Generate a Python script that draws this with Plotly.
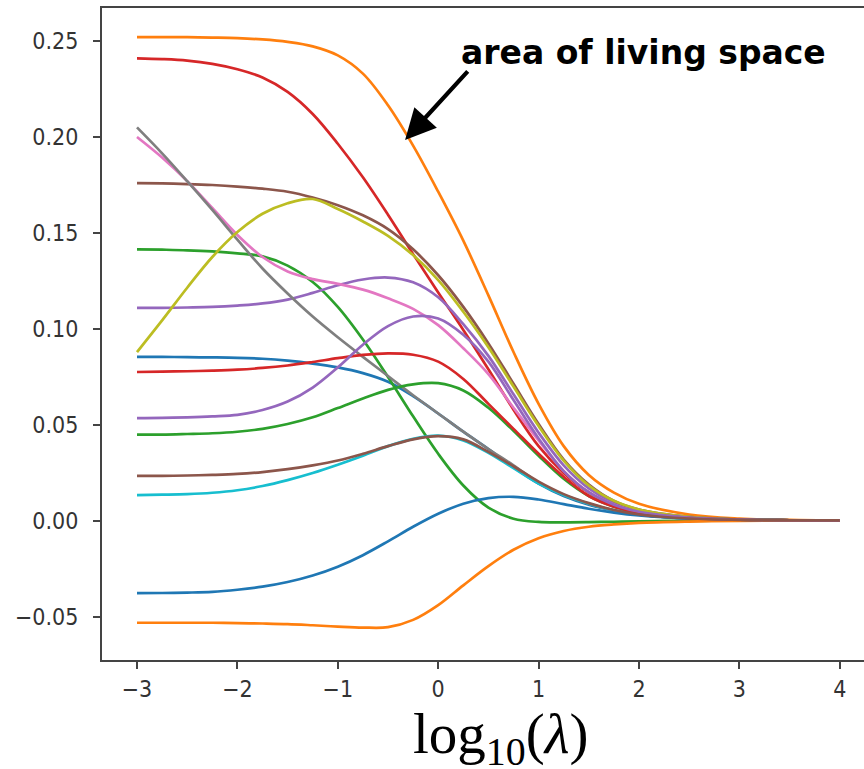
import plotly.graph_objects as go

# log10(lambda) sample positions
X = [-3, -2.75, -2.5, -2.25, -2, -1.75, -1.5, -1.25, -1, -0.75, -0.5, -0.25,
     0, 0.25, 0.5, 0.75, 1, 1.25, 1.5, 1.75, 2, 2.5, 3, 3.5, 4]

blue_a = [0.0855, 0.0855, 0.0853, 0.0852, 0.085, 0.0845, 0.0835, 0.082, 0.080, 0.077, 0.0725, 0.065,
          0.056, 0.0465, 0.0375, 0.028, 0.0195, 0.013, 0.0085, 0.0055, 0.0033, 0.0013, 0.0006, 0.0004, 0.0003]
orange_a = [0.252, 0.252, 0.252, 0.2518, 0.2515, 0.2508, 0.2495, 0.2472, 0.2425, 0.2330, 0.2165, 0.1955,
            0.1715, 0.146, 0.1175, 0.088, 0.061, 0.039, 0.024, 0.0148, 0.0090, 0.0034, 0.0013, 0.0006, 0.0003]
green_a = [0.1415, 0.1413, 0.141, 0.1404, 0.1394, 0.1378, 0.1330, 0.1245, 0.1115, 0.0945, 0.0750, 0.0545,
           0.035, 0.0185, 0.0070, 0.0012, -0.0005, -0.0007, -0.0006, -0.0004, -0.0002, 0.0001, 0.0002, 0.0003, 0.0003]
red_a = [0.241, 0.2406, 0.2398, 0.2381, 0.2353, 0.2310, 0.2235, 0.2120, 0.1965, 0.179, 0.1595, 0.139,
         0.119, 0.0995, 0.079, 0.058, 0.039, 0.025, 0.0148, 0.0085, 0.0048, 0.0017, 0.0007, 0.0004, 0.0003]
purple_a = [0.111, 0.111, 0.1112, 0.1115, 0.1122, 0.1133, 0.1153, 0.1188, 0.1228, 0.1258, 0.1268, 0.1243,
            0.1165, 0.1025, 0.086, 0.066, 0.046, 0.029, 0.017, 0.0095, 0.0054, 0.002, 0.0008, 0.0004, 0.0003]
brown_a = [0.176, 0.1758, 0.1755, 0.175, 0.1742, 0.1731, 0.1715, 0.1685, 0.1645, 0.1592, 0.152, 0.1415,
           0.128, 0.1115, 0.0925, 0.0715, 0.0505, 0.032, 0.019, 0.0105, 0.006, 0.0021, 0.0008, 0.0004, 0.0003]
pink = [0.200, 0.1893, 0.177, 0.163, 0.149, 0.1375, 0.130, 0.126, 0.1235, 0.1205, 0.116, 0.1105,
        0.102, 0.090, 0.0765, 0.059, 0.042, 0.026, 0.015, 0.0085, 0.0048, 0.0018, 0.0007, 0.0004, 0.0003]
gray = [0.205, 0.1915, 0.177, 0.162, 0.1465, 0.1315, 0.1185, 0.1065, 0.0957, 0.0855, 0.0755, 0.0655,
        0.056, 0.0465, 0.0375, 0.029, 0.020, 0.0135, 0.009, 0.0056, 0.0034, 0.0013, 0.0006, 0.0004, 0.0003]
olive = [0.088, 0.1045, 0.1215, 0.1375, 0.1505, 0.1600, 0.1655, 0.1677, 0.1625, 0.156, 0.1485, 0.1385,
         0.1255, 0.109, 0.0905, 0.070, 0.0495, 0.0315, 0.0185, 0.0105, 0.006, 0.0021, 0.0008, 0.0004, 0.0003]
cyan = [0.0135, 0.0137, 0.014, 0.0147, 0.016, 0.0182, 0.0213, 0.025, 0.0293, 0.034, 0.0390, 0.0428,
        0.0445, 0.042, 0.0355, 0.0275, 0.0195, 0.0135, 0.009, 0.0055, 0.0033, 0.0013, 0.0006, 0.0004, 0.0003]
blue_b = [-0.0376, -0.0375, -0.0373, -0.0369, -0.0358, -0.0342, -0.0318, -0.0284, -0.0238, -0.0178, -0.0106, -0.0030,
          0.0038, 0.0090, 0.0119, 0.0126, 0.0112, 0.0088, 0.0064, 0.0044, 0.0029, 0.0012, 0.0005, 0.0004, 0.0003]
orange_b = [-0.053, -0.053, -0.053, -0.053, -0.0532, -0.0534, -0.0537, -0.0543, -0.0550, -0.0555, -0.0553, -0.0515,
            -0.0438, -0.0335, -0.0235, -0.0150, -0.0090, -0.0052, -0.0030, -0.0018, -0.001, -0.0003, 0.0001, 0.0002, 0.0003]
green_b = [0.045, 0.045, 0.0453, 0.0457, 0.0465, 0.0480, 0.0505, 0.054, 0.0588, 0.0638, 0.0683, 0.0712,
           0.0718, 0.068, 0.059, 0.047, 0.034, 0.022, 0.013, 0.0075, 0.0042, 0.0016, 0.0007, 0.0004, 0.0003]
red_b = [0.0776, 0.0778, 0.078, 0.0783, 0.0788, 0.0797, 0.081, 0.0828, 0.0848, 0.0865, 0.0873, 0.0866,
         0.083, 0.074, 0.061, 0.048, 0.035, 0.023, 0.013, 0.0075, 0.0042, 0.0016, 0.0007, 0.0004, 0.0003]
purple_b = [0.0536, 0.0537, 0.054, 0.0545, 0.0553, 0.0578, 0.0622, 0.0695, 0.0800, 0.0918, 0.1015, 0.1065,
            0.1055, 0.097, 0.083, 0.063, 0.043, 0.026, 0.015, 0.0085, 0.0048, 0.0018, 0.0007, 0.0004, 0.0003]
brown_b = [0.0235, 0.0235, 0.0237, 0.024, 0.0245, 0.0255, 0.027, 0.029, 0.0315, 0.035, 0.039, 0.0425,
           0.0442, 0.0425, 0.036, 0.0285, 0.0205, 0.014, 0.0093, 0.0057, 0.0034, 0.0013, 0.0006, 0.0004, 0.0003]

series = [
    (blue_a, "#1f77b4"), (orange_a, "#ff7f0e"), (green_a, "#2ca02c"), (red_a, "#d62728"),
    (purple_a, "#9467bd"), (brown_a, "#8c564b"), (pink, "#e377c2"), (gray, "#7f7f7f"),
    (olive, "#bcbd22"), (cyan, "#17becf"),
    (blue_b, "#1f77b4"), (orange_b, "#ff7f0e"), (green_b, "#2ca02c"), (red_b, "#d62728"),
    (purple_b, "#9467bd"), (brown_b, "#8c564b"),
]

y_ticks = [-0.05, 0.0, 0.05, 0.10, 0.15, 0.20, 0.25]
x_ticks = [-3, -2, -1, 0, 1, 2, 3, 4]

fig = go.Figure()
for ys, col in series:
    fig.add_trace(go.Scatter(x=X, y=ys, mode="lines",
                             line=dict(color=col, width=2.7, shape="spline", smoothing=1.0),
                             showlegend=False, hoverinfo="skip"))

tickfont = dict(family="DejaVu Sans Condensed, DejaVu Sans", size=23, color="#333333")
fig.update_layout(
    width=864, height=769,
    margin=dict(l=102, r=0, t=8, b=109),
    paper_bgcolor="white", plot_bgcolor="white",
    xaxis=dict(range=[-3.3486, 4.241], tickvals=x_ticks, ticks="outside", ticklen=7, tickwidth=1.5,
               tickcolor="#444", showline=True, linecolor="#444", linewidth=2, mirror=True,
               showgrid=False, zeroline=False, tickfont=tickfont),
    yaxis=dict(range=[-0.0724, 0.26719], tickvals=y_ticks, tickformat=".2f", ticks="outside", ticklen=7,
               tickwidth=1.5, tickcolor="#444", showline=True, linecolor="#444", linewidth=2,
               showgrid=False, zeroline=False, tickfont=tickfont, ticklabelstandoff=10),
)

fig.add_annotation(text="log<sub>10</sub>(<i>λ</i>)", xref="paper", yref="paper",
                   x=(500 - 102) / 762, y=-(738 - 660) / 652, xanchor="center", yanchor="middle",
                   showarrow=False, font=dict(family="Liberation Serif", size=57, color="black"))
fig.add_annotation(text="<b>area of living space</b>", xref="paper", yref="paper",
                   x=(643 - 102) / 762, y=(660 - 52) / 652, xanchor="center", yanchor="middle",
                   showarrow=False, font=dict(family="DejaVu Sans", size=33, color="black"))
fig.add_annotation(text="", x=-0.33, y=0.1985, xref="x", yref="y", showarrow=True,
                   ax=64, ay=-70, arrowhead=2, arrowsize=1.45, arrowwidth=4.2, arrowcolor="black")

fig.write_html("out.html", config={"displayModeBar": False},
               post_script="document.body.style.margin='0px';")
